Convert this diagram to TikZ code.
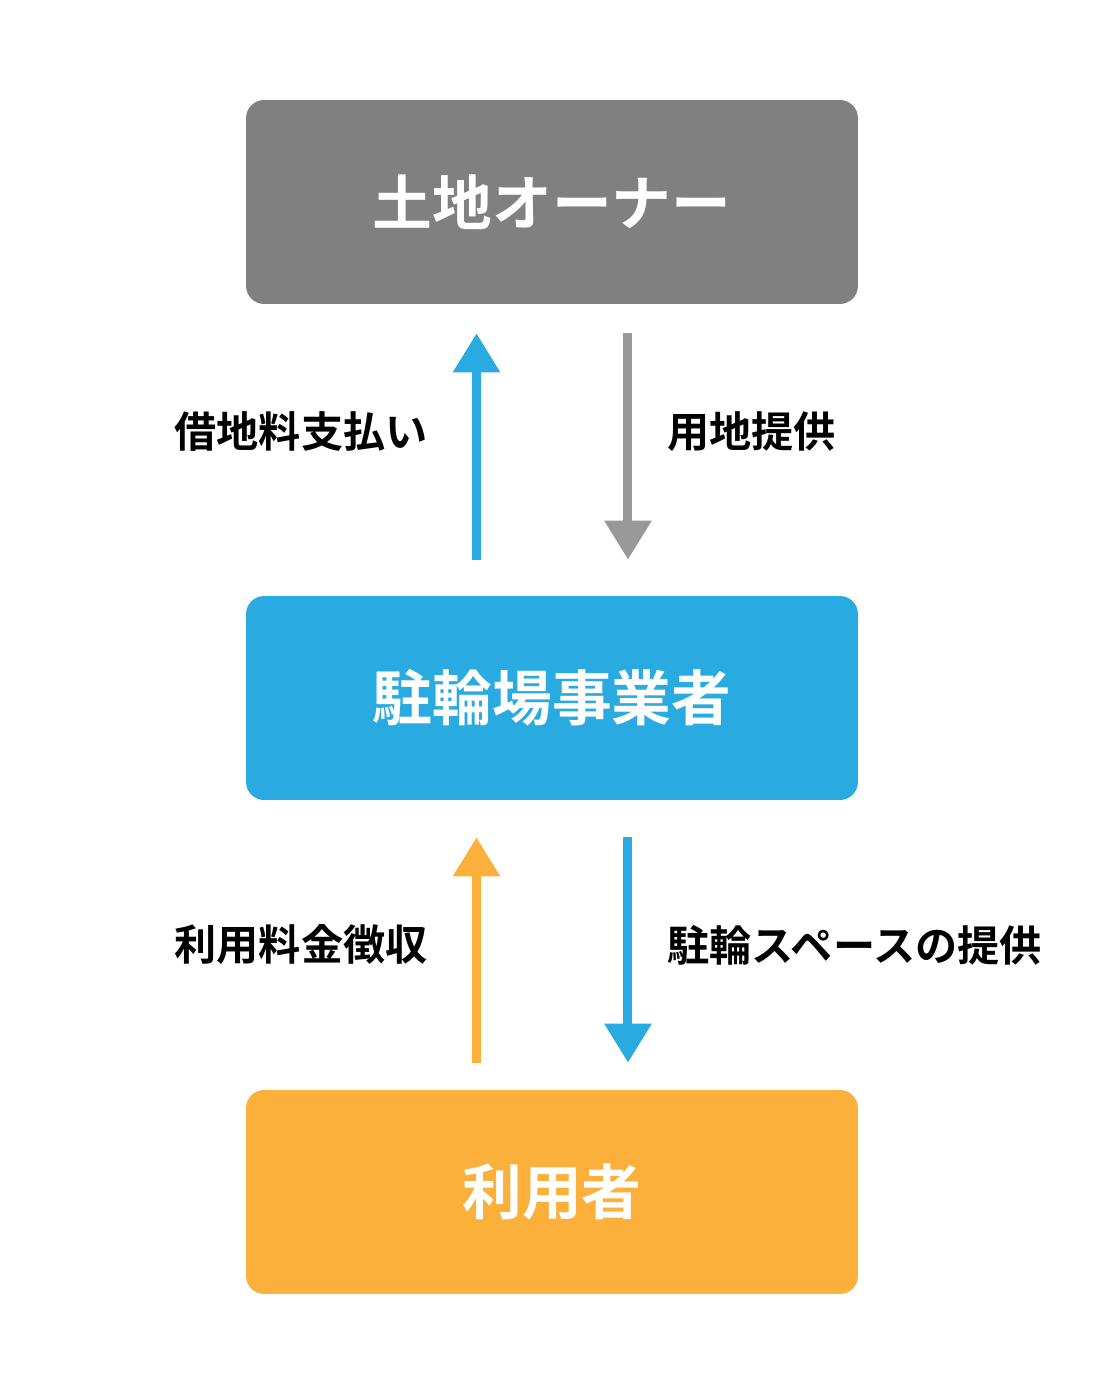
\documentclass[tikz,border=0pt]{standalone}
\usepackage{fontspec}
\setmainfont{Noto Sans CJK JP Bold}
\usetikzlibrary{arrows.meta}
\definecolor{ownergray}{HTML}{808080}
\definecolor{arrowgray}{HTML}{999999}
\definecolor{bizblue}{HTML}{29ABE2}
\definecolor{useorange}{HTML}{FBB03B}

\begin{document}
\begin{tikzpicture}[x=0.02cm,y=-0.02cm,line cap=butt,
  box/.style={rounded corners=0.36cm,minimum width=12.24cm,minimum height=4.08cm,
    inner sep=0pt,text=white,font=\fontsize{34}{34}\selectfont},
  flow/.style={line width=0.18cm,-{Triangle[width=0.9cm,length=0.78cm]}},
  lbl/.style={inner sep=0pt,font=\fontsize{24}{24}\selectfont}]
  \useasboundingbox (0,0) rectangle (1117,1398);
  % 三つの箱
  \node[box,fill=ownergray] (owner) at (552,202) {土地オーナー};
  \node[box,fill=bizblue] (biz) at (552,698) {駐輪場事業者};
  \node[box,fill=useorange] (user) at (552,1192) {利用者};
  % 上段の矢印
  \draw[flow,bizblue,shorten <=0.72cm,shorten >=0.58cm]
    ([xshift=-1.51cm]biz.north) -- ([xshift=-1.51cm]owner.south);
  \draw[flow,arrowgray,shorten <=0.58cm,shorten >=0.72cm]
    ([xshift=1.52cm]owner.south) -- ([xshift=1.52cm]biz.north);
  \node[lbl,anchor=east] (rent) at (428,432) {借地料支払い};
  \node[lbl,anchor=west] (land) at (667,432) {用地提供};
  % 下段の矢印
  \draw[flow,useorange,shorten <=0.54cm,shorten >=0.74cm]
    ([xshift=-1.51cm]user.north) -- ([xshift=-1.51cm]biz.south);
  \draw[flow,bizblue,shorten <=0.74cm,shorten >=0.54cm]
    ([xshift=1.52cm]biz.south) -- ([xshift=1.52cm]user.north);
  \node[lbl,anchor=east] (fee) at (428,945) {利用料金徴収};
  \node[lbl,anchor=west] (space) at (667,945) {駐輪スペースの提供};
\end{tikzpicture}
\end{document}
